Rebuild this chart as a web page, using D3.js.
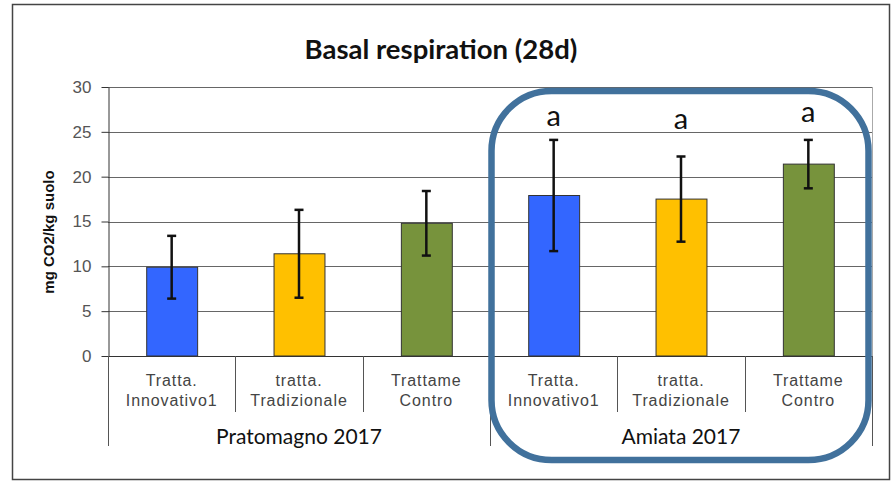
<!DOCTYPE html>
<html>
<head>
<meta charset="utf-8">
<script src="https://cdn.jsdelivr.net/npm/d3@7"></script>
<style>
  body { margin: 0; background: #fff; }
  svg { display: block; }
</style>
</head>
<body>
<svg id="chart" width="895" height="484"></svg>
<script>
const sites = ['Pratomagno 2017', 'Amiata 2017'];
const treatments = [['Tratta.', 'Innovativo1'], ['tratta.', 'Tradizionale'], ['Trattame', 'Contro']];
const values = [9.9, 11.4, 14.8, 17.9, 17.5, 21.4];
const errors = [3.5, 4.9, 3.6, 6.2, 4.75, 2.7];
const letters = ['', '', '', 'a', 'a', 'a'];
const letterPos = [0, 0, 0, 25.7, 25.3, 26.1];
const yTicks = [0, 5, 10, 15, 20, 25, 30];
const colors = ['#3366ff', '#ffc000', '#77933c'];

const svg = d3.select('#chart');

// outer frame
svg.append('rect')
  .attr('x', 12.5).attr('y', 4.5)
  .attr('width', 877).attr('height', 475)
  .attr('fill', '#fff')
  .attr('stroke', '#444')
  .attr('stroke-width', 1.5);

const plot = { left: 108, right: 872, top: 87, bottom: 356 };

const cats = d3.range(values.length);
const x = d3.scaleBand().domain(cats).range([plot.left, plot.right]).paddingInner(0.6).paddingOuter(0.3);
const slot = d3.scaleBand().domain(cats).range([plot.left, plot.right]);
const y = d3.scaleLinear().domain([0, 30]).range([plot.bottom, plot.top]);

// gridlines
svg.append('g')
  .selectAll('line')
  .data(yTicks.filter((d) => d > 0))
  .enter()
  .append('line')
  .attr('x1', plot.left).attr('x2', plot.right)
  .attr('y1', (d) => Math.round(y(d)) + 0.5)
  .attr('y2', (d) => Math.round(y(d)) + 0.5)
  .attr('stroke', '#666')
  .attr('stroke-width', 1);

// right border of plot area
svg.append('line')
  .attr('x1', plot.right + 0.5).attr('x2', plot.right + 0.5)
  .attr('y1', plot.top).attr('y2', plot.bottom)
  .attr('stroke', '#aaa');

// y axis
const yAxis = svg.append('g')
  .attr('transform', `translate(${plot.left + 0.5},0)`)
  .call(d3.axisLeft(y).tickValues(yTicks).tickSize(7).tickSizeOuter(0).tickPadding(10));
yAxis.select('.domain').attr('stroke', '#333');
yAxis.selectAll('.tick line').attr('stroke', '#333');
yAxis.selectAll('text')
  .attr('font-family', 'Liberation Sans, Arial, sans-serif')
  .attr('font-size', 17)
  .attr('fill', '#555');

svg.append('text')
  .attr('transform', 'translate(54,232) rotate(-90)')
  .attr('text-anchor', 'middle')
  .attr('font-family', 'Liberation Sans, Arial, sans-serif')
  .attr('font-weight', 'bold')
  .attr('font-size', 15)
  .attr('fill', '#111')
  .text('mg CO2/kg suolo');

// bars
svg.append('g')
  .selectAll('rect')
  .data(values)
  .enter()
  .append('rect')
  .attr('x', (d, i) => x(i) + 0.5)
  .attr('y', (d) => y(d))
  .attr('width', x.bandwidth())
  .attr('height', (d) => plot.bottom - y(d))
  .attr('fill', (d, i) => colors[i % 3])
  .attr('stroke', '#333')
  .attr('stroke-width', 1);

// error bars
const err = svg.append('g').attr('stroke', '#111').attr('stroke-width', 2.5);
values.forEach((v, i) => {
  const cx = x(i) + x.bandwidth() / 2;
  err.append('line').attr('x1', cx).attr('x2', cx).attr('y1', y(v + errors[i])).attr('y2', y(v - errors[i]));
  [v + errors[i], v - errors[i]].forEach((e) => {
    err.append('line').attr('x1', cx - 4.5).attr('x2', cx + 4.5).attr('y1', y(e)).attr('y2', y(e));
  });
});

// x axis line
svg.append('line')
  .attr('x1', plot.left).attr('x2', plot.right)
  .attr('y1', plot.bottom + 0.5).attr('y2', plot.bottom + 0.5)
  .attr('stroke', '#333');

// category separators
const sep = svg.append('g').attr('stroke', '#555').attr('stroke-width', 1);
d3.range(values.length + 1).forEach((k) => {
  const sx = Math.round(k < values.length ? slot(k) : plot.right) + 0.5;
  const long = k % 3 === 0;
  sep.append('line').attr('x1', sx).attr('x2', sx)
    .attr('y1', plot.bottom).attr('y2', long ? 446 : 412);
});

// category labels
cats.forEach((i) => {
  const t = svg.append('text')
    .attr('text-anchor', 'middle')
    .attr('font-family', 'Liberation Sans, Arial, sans-serif')
    .attr('font-size', 16)
    .attr('letter-spacing', 0.9)
    .attr('fill', '#444');
  treatments[i % 3].forEach((line, j) => {
    t.append('tspan')
      .attr('x', slot(i) + slot.bandwidth() / 2)
      .attr('y', 386 + j * 20)
      .text(line);
  });
});

// site labels
sites.forEach((s, g) => {
  svg.append('text')
    .attr('x', (slot(g * 3) + (g === 1 ? plot.right : slot(3))) / 2)
    .attr('y', 444)
    .attr('text-anchor', 'middle')
    .attr('font-family', 'Lato, Noto Sans, sans-serif')
    .attr('font-size', 21)
    .attr('fill', '#111')
    .text(s);
});

// significance letters
letters.forEach((l, i) => {
  if (!l) return;
  svg.append('text')
    .attr('x', x(i) + x.bandwidth() / 2)
    .attr('y', y(letterPos[i]))
    .attr('text-anchor', 'middle')
    .attr('font-family', 'Lato, Noto Sans, sans-serif')
    .attr('font-size', 29)
    .attr('fill', '#111')
    .text(l);
});

// highlight box around second site
svg.append('rect')
  .attr('x', 491.5).attr('y', 91)
  .attr('width', 377).attr('height', 369)
  .attr('rx', 60).attr('ry', 60)
  .attr('fill', 'none')
  .attr('stroke', '#41719c')
  .attr('stroke-width', 6.5);

// title
svg.append('text')
  .attr('x', 441)
  .attr('y', 59)
  .attr('text-anchor', 'middle')
  .attr('font-family', 'Lato, Noto Sans, sans-serif')
  .attr('font-weight', 'bold')
  .attr('font-size', 27.5)
  .attr('fill', '#111')
  .text('Basal respiration (28d)');
</script>
</body>
</html>
